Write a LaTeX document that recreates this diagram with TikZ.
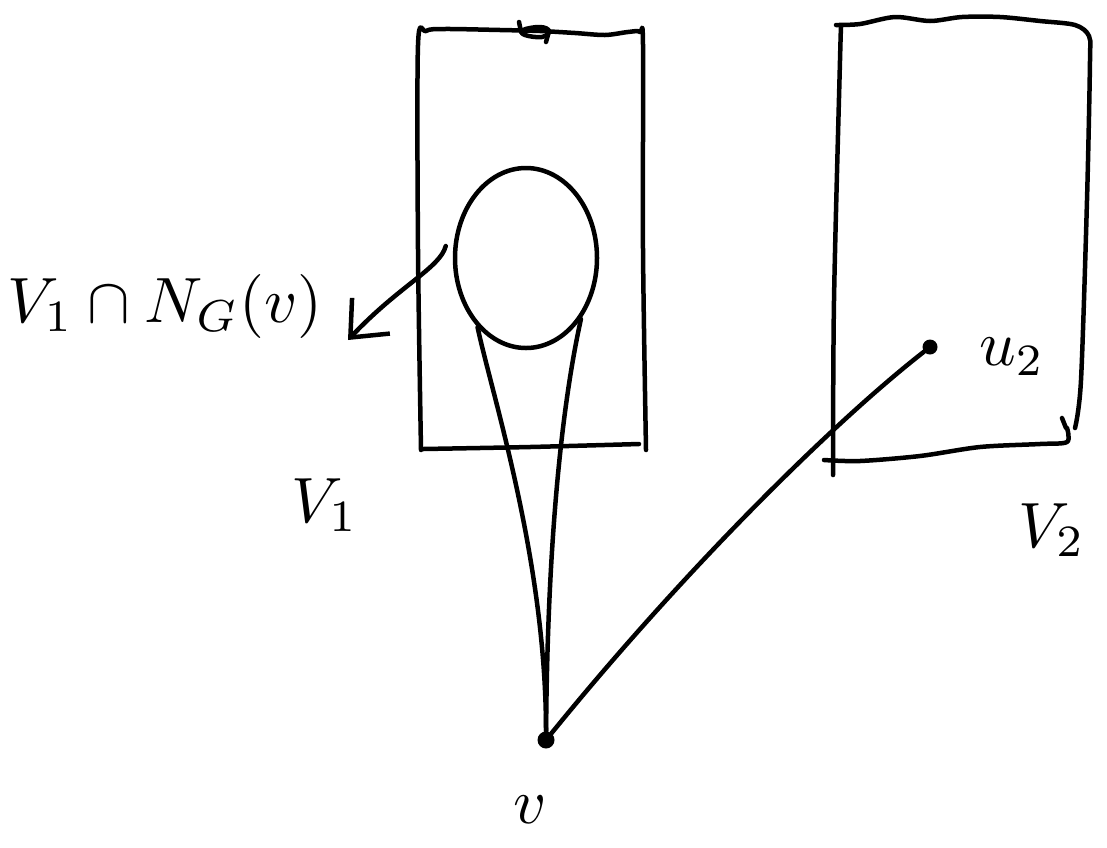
\documentclass[tikz,border=0pt]{standalone}
\usetikzlibrary{shapes.geometric,arrows.meta}
\begin{document}
\begin{tikzpicture}[x=1pt,y=-1pt,
  pen/.style={line width=4.5pt,line cap=round,line join=round,black},
  dot/.style={circle,fill=black,inner sep=0pt,minimum size=17pt},
  lab/.style={scale=6.4,inner sep=0pt}]
\useasboundingbox (0,0) rectangle (1107,847);
% V1 box
\draw[pen] plot[smooth,tension=0.5] coordinates {(421,450) (418,250) (418,45) (426,31) (445,29) (500,30) (540,31) (575,33) (605,35) (628,32) (640,32) (643,45) (643,250) (646,450)};
\draw[pen] plot[smooth,tension=0.5] coordinates {(423,449) (530,447) (639,444)};
\draw[pen] (519,22) -- (521,32);
\draw[pen] plot[smooth cycle,tension=0.7] coordinates {(523,30) (540,27) (549,31) (542,37) (525,35)};
\draw[pen] (549,31) -- (546,42);
% V2 box
\draw[pen] plot[smooth,tension=0.5] coordinates {(833,475) (834,300) (840,60) (841,28)};
\draw[pen] plot[smooth,tension=0.5] coordinates {(836,25) (860,24) (895,17) (930,21) (962,17) (1000,17) (1040,21) (1075,25) (1089,36) (1090,60) (1087,200) (1081,380) (1075,428)};
\draw[pen] plot[smooth,tension=0.5] coordinates {(824,460) (860,461) (920,456) (980,447) (1040,444) (1067,442) (1067,428)};
\draw[pen] (1062,418) -- (1066,428);
% neighbourhood
\node[ellipse,draw,pen,minimum width=142pt,minimum height=180pt,inner sep=0pt] (N) at (526,258) {};
% points
\node[dot] (v) at (546,740) {};
\node[dot,minimum size=15pt] (u2) at (930,347) {};
% edges
\draw[pen] (N.235) .. controls (492,395) and (546,560) .. (v);
\draw[pen] (N.312) .. controls (572,360) and (548,480) .. (v);
\draw[pen] (v) .. controls (680,575) and (830,425) .. (u2);
% labels
\node[lab] (l1) at (165,306) {$V_1\cap N_G(v)$};
\coordinate (atip) at (348,340);
\draw[pen,-{Straight Barb[length=30pt,width=52pt,line width=4.5pt]}] ([shift={(-7pt,12pt)}]N.west) .. controls (440,268) and (400,285) .. (atip);
\node[lab] (lV1) at (325,505) {$V_1$};
\node[lab] (lv) at (530,810) {$v$};
\node[lab] (lu2) at (1012,357) {$u_2$};
\node[lab] (lV2) at (1052,530) {$V_2$};
\end{tikzpicture}
\end{document}
